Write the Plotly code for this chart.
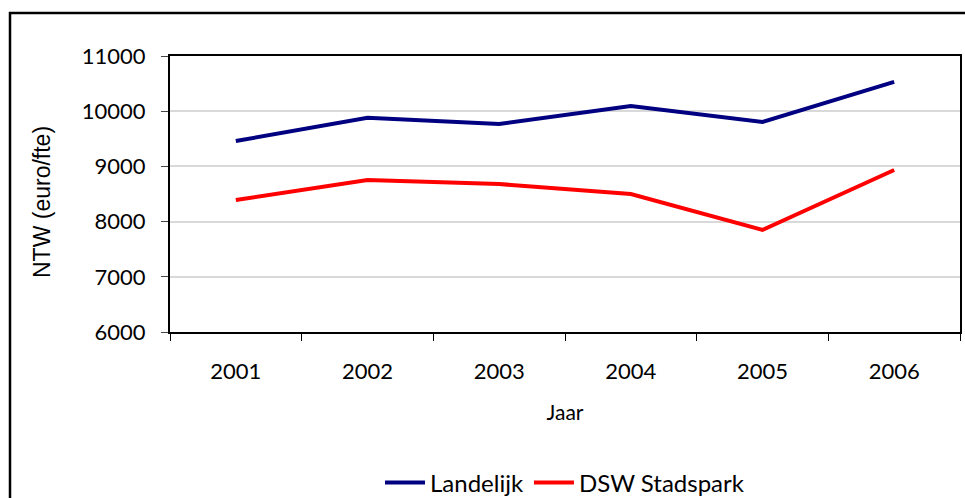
import plotly.graph_objects as go

years = ["2001", "2002", "2003", "2004", "2005", "2006"]
landelijk = [9460, 9880, 9770, 10095, 9805, 10530]
dsw_stadspark = [8390, 8755, 8680, 8500, 7848, 8935]
y_ticks = [6000, 7000, 8000, 9000, 10000, 11000]

FONT = "Lato"
fig = go.Figure()
fig.add_trace(go.Scatter(x=years, y=landelijk, mode="lines", name="Landelijk",
                         line=dict(color="#000080", width=4)))
fig.add_trace(go.Scatter(x=years, y=dsw_stadspark, mode="lines", name="DSW Stadspark",
                         line=dict(color="#FF0000", width=4)))

L, R, T, B = 170, 5, 56, 166
W, H = 965, 498
pw, ph = W - L - R, H - T - B

fig.update_layout(
    width=W, height=H,
    margin=dict(l=L, r=R, t=T, b=B, autoexpand=False),
    paper_bgcolor="white", plot_bgcolor="white",
    font=dict(family=FONT, size=22, color="black"),
    showlegend=True,
    legend=dict(orientation="h", x=0.5, xanchor="center", y=-(483 - 332) / ph, yanchor="middle",
                font=dict(size=24), itemwidth=40),
    xaxis=dict(type="category", range=[-0.5, 5.5], tickson="boundaries", ticks="outside", ticklen=7,
               tickcolor="black", showline=True, linecolor="black", linewidth=2, mirror=True,
               showgrid=False, tickfont=dict(size=22), ticklabelstandoff=19,
               title=dict(text="Jaar", font=dict(size=21), standoff=22)),
    yaxis=dict(range=[6000, 11000], tickvals=y_ticks, ticktext=[str(v) for v in y_ticks],
               ticks="outside", ticklen=7,
               tickcolor="#444", showline=True, linecolor="black", linewidth=2, mirror=True,
               showgrid=True, gridcolor="#d9d9d9", gridwidth=1.5, zeroline=False,
               tickfont=dict(size=22), ticklabelstandoff=11),
)

# y-axis title (placed as in the reference, slightly below the plot centre)
fig.add_annotation(text="NTW (euro/fte)", xref="paper", yref="paper",
                   x=(42 - L) / pw, y=1 - (202 - T) / ph, xanchor="center", yanchor="middle",
                   textangle=-90, showarrow=False,
                   font=dict(size=23, family="Liberation Sans", color="black"))

# outer chart border
x0 = (10 - L) / pw
y1 = 1 + (T - 13) / ph
fig.add_shape(type="rect", xref="paper", yref="paper", x0=x0, x1=1.2, y0=-1.0, y1=y1,
              line=dict(color="black", width=2.5), layer="below")

fig.write_html("out.html", config={"displayModeBar": False},
               post_script="document.body.style.margin='0';document.body.style.overflow='hidden';")
